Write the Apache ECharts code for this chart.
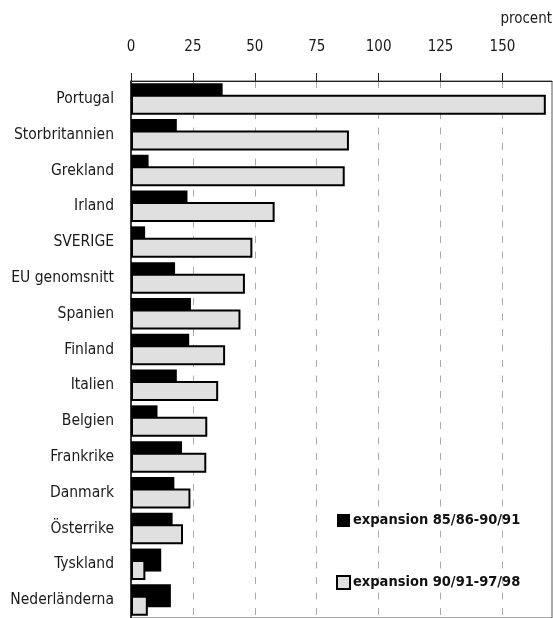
<!DOCTYPE html>
<html>
<head>
<meta charset="utf-8">
<script src="https://cdn.jsdelivr.net/npm/echarts@6/dist/echarts.min.js"></script>
<style>
html,body{margin:0;padding:0;background:#fff;}
#c{width:553px;height:618px;}
</style>
</head>
<body>
<div id="c"></div>
<script>
const countries = ["Portugal","Storbritannien","Grekland","Irland","SVERIGE","EU genomsnitt","Spanien","Finland","Italien","Belgien","Frankrike","Danmark","Österrike","Tyskland","Nederländerna"];
const exp8591 = [37.0,18.5,7.1,22.8,5.7,17.8,24.2,23.5,18.5,10.7,20.6,17.5,16.8,12.2,16.1];
const exp9198 = [167.5,88.0,86.3,58.0,49.0,46.0,44.2,38.0,35.2,30.8,30.4,24.0,21.0,5.8,6.8];
const seriesNames = ["expansion 85/86-90/91","expansion 90/91-97/98"];
const axisMax = 170;
const tickStep = 25;

const FONT = '"Liberation Sans Narrow","DejaVu Sans Condensed","Liberation Sans",sans-serif';
const chart = echarts.init(document.getElementById('c'), null, {renderer:'canvas'});
chart.setOption({
  animation:false,
  backgroundColor:'#fff',
  textStyle:{fontFamily:FONT},
  graphic:[{type:'text',right:1,top:12,style:{text:'procent',font:'15px '+FONT,fill:'#1a1a1a',textAlign:'right'}}],
  grid:{left:131,top:81,right:1,bottom:-4.5,show:true,borderColor:'#555',borderWidth:1,backgroundColor:'transparent'},
  legend:{
    orient:'vertical',left:331,top:508,itemWidth:13,itemHeight:13,itemGap:47,icon:'rect',
    data:seriesNames,
    textStyle:{fontFamily:FONT,fontSize:14.5,fontWeight:'bold',color:'#111',padding:[0,0,0,-2]},
    selectedMode:false
  },
  xAxis:{
    type:'value',position:'top',min:0,max:axisMax,interval:tickStep,
    axisLine:{show:true,lineStyle:{color:'#222',width:1}},
    axisTick:{show:true,length:8,lineStyle:{color:'#222'}},
    axisLabel:{showMaxLabel:false,margin:26,fontSize:15,color:'#1a1a1a',fontFamily:FONT},
    splitLine:{show:true,lineStyle:{color:'#aaa',type:[7,8.5],width:1}}
  },
  yAxis:{
    type:'category',inverse:true,data:countries,
    axisLine:{show:true,lineStyle:{color:'#111',width:1.5}},
    axisTick:{show:false},
    axisLabel:{margin:17,fontSize:15.5,color:'#1a1a1a',fontFamily:FONT}
  },
  series:[
    {name:seriesNames[0],type:'bar',data:exp8591,barWidth:23,barGap:'-50%',itemStyle:{color:'#000'}},
    {name:seriesNames[1],type:'bar',data:exp9198,barWidth:20,itemStyle:{color:'#e0e0e0',borderColor:'#000',borderWidth:2}}
  ]
});
</script>
</body>
</html>
